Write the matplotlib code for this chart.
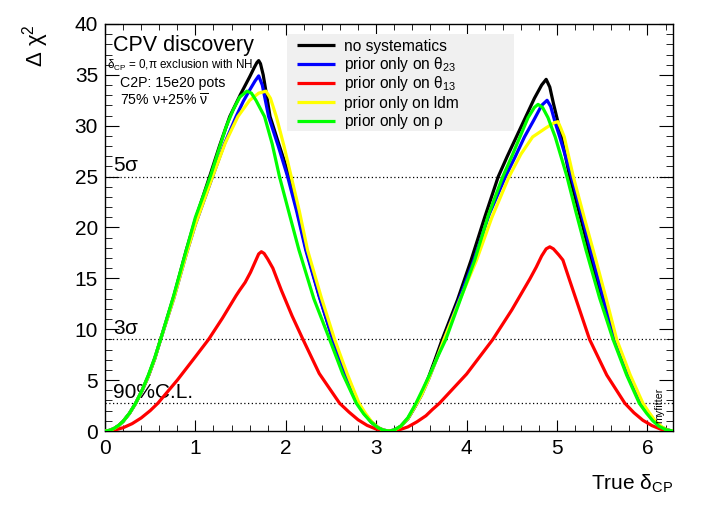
import numpy as np
import matplotlib
matplotlib.use("Agg")
import matplotlib.pyplot as plt
from matplotlib.patches import Rectangle
from matplotlib.ticker import MultipleLocator

plt.rcParams['font.family'] = ['Liberation Sans', 'DejaVu Sans']
plt.rcParams['mathtext.fontset'] = 'custom'
plt.rcParams['mathtext.rm'] = 'Liberation Sans'
plt.rcParams['mathtext.it'] = 'Liberation Sans'
plt.rcParams['mathtext.bf'] = 'Liberation Sans:bold'

# values (x = true delta_CP, y = delta chi2)
x_nosys = [0, 0.05, 0.1, 0.15, 0.2, 0.27, 0.34, 0.41, 0.48, 0.55, 0.615, 0.76, 0.9, 1.0, 1.157,
           1.27, 1.38, 1.5, 1.6, 1.65, 1.68, 1.70, 1.72, 1.75, 1.78, 1.826, 1.93, 2.04, 2.13,
           2.227, 2.37, 2.52, 2.66, 2.80, 2.87, 2.95, 3.02, 3.08, 3.1416,
           3.20, 3.27, 3.35, 3.43, 3.50, 3.58, 3.65, 3.73, 3.90, 4.05, 4.20, 4.35, 4.45, 4.55,
           4.65, 4.75, 4.83, 4.88, 4.92, 4.96, 5.05, 5.14, 5.26, 5.38, 5.51, 5.64, 5.79, 5.93,
           6.00, 6.08, 6.15, 6.22, 6.2832]
y_nosys = [0, 0.06, 0.24, 0.53, 0.94, 1.72, 2.73, 3.97, 5.4, 7.1, 9.0, 13.2, 17.8, 20.8, 25.0,
           28.1, 30.9, 33.1, 34.8, 35.7, 36.2, 36.4, 36.1, 35.0, 33.4, 30.9, 28.0, 25.0, 21.5,
           17.8, 13.3, 9.0, 5.6, 2.73, 1.7, 0.85, 0.33, 0.08, 0,
           0.09, 0.45, 1.2, 2.4, 3.6, 5.3, 7.0, 9.0, 12.9, 16.8, 21.0, 25.0, 27.0, 28.9,
           30.8, 32.7, 34.0, 34.56, 33.8, 32.2, 28.9, 25.0, 21.0, 16.8, 12.7, 9.0, 5.5, 2.73,
           1.8, 0.95, 0.4, 0.09, 0]

x_th23 = [0, 0.05, 0.1, 0.15, 0.2, 0.27, 0.34, 0.41, 0.48, 0.55, 0.615, 0.76, 0.9, 1.0, 1.19,
          1.32, 1.45, 1.53, 1.60, 1.66, 1.70, 1.74, 1.81, 1.92, 2.02, 2.12, 2.22, 2.37, 2.52,
          2.66, 2.80, 2.87, 2.95, 3.02, 3.08, 3.1416,
          3.20, 3.27, 3.35, 3.43, 3.50, 3.58, 3.66, 3.75, 3.92, 4.08, 4.25, 4.43, 4.54, 4.64,
          4.74, 4.83, 4.89, 4.93, 4.98, 5.03, 5.16, 5.28, 5.40, 5.52, 5.64, 5.79, 5.93,
          6.00, 6.08, 6.15, 6.22, 6.2832]
y_th23 = [0, 0.06, 0.24, 0.53, 0.94, 1.72, 2.73, 3.97, 5.4, 7.1, 9.0, 13.0, 17.4, 20.3, 25.0,
          28.2, 30.9, 32.4, 33.5, 34.4, 34.9, 34.0, 30.9, 27.9, 25.0, 21.6, 17.8, 13.2, 9.0,
          5.6, 2.73, 1.7, 0.85, 0.33, 0.08, 0,
          0.09, 0.45, 1.2, 2.4, 3.5, 5.1, 6.9, 9.0, 13.0, 16.8, 21.3, 25.0, 27.0, 28.9,
          30.5, 32.0, 32.5, 31.9, 30.3, 28.9, 25.0, 21.0, 16.8, 12.8, 9.0, 5.5, 2.73,
          1.8, 0.95, 0.4, 0.09, 0]

x_th13 = [0, 0.1, 0.2, 0.3, 0.4, 0.5, 0.585, 0.8, 1.0, 1.146, 1.3, 1.45, 1.49, 1.55, 1.61,
          1.66, 1.70, 1.73, 1.76, 1.80, 1.857, 1.90, 1.95, 2.07, 2.19, 2.37, 2.595, 2.70, 2.8,
          2.9, 3.0, 3.07, 3.1416,
          3.25, 3.35, 3.45, 3.55, 3.62, 3.70, 4.0, 4.29, 4.5, 4.70, 4.77, 4.83, 4.88, 4.92,
          4.96, 5.02, 5.065, 5.14, 5.25, 5.36, 5.55, 5.75, 5.85, 5.95, 6.05, 6.15, 6.22, 6.2832]
y_th13 = [0, 0.08, 0.32, 0.72, 1.28, 2.0, 2.73, 5.0, 7.3, 9.0, 11.1, 13.3, 13.84, 14.6, 15.6,
          16.6, 17.4, 17.62, 17.45, 16.9, 16.0, 15.0, 13.85, 11.3, 9.0, 5.65, 2.73, 1.85, 1.1,
          0.55, 0.19, 0.05, 0,
          0.1, 0.4, 0.9, 1.5, 2.1, 2.73, 5.6, 9.0, 11.9, 14.95, 16.1, 17.2, 17.9, 18.1,
          17.9, 17.3, 16.8, 14.8, 11.9, 9.0, 5.5, 2.73, 1.8, 1.05, 0.53, 0.17, 0.04, 0]

x_ldm = [0, 0.05, 0.1, 0.15, 0.2, 0.27, 0.34, 0.41, 0.48, 0.55, 0.615, 0.76, 0.9, 1.0, 1.19,
         1.33, 1.47, 1.60, 1.70, 1.78, 1.83, 1.895, 1.98, 2.06, 2.15, 2.24, 2.39, 2.54, 2.68,
         2.81, 2.88, 2.95, 3.02, 3.08, 3.1416,
         3.20, 3.27, 3.35, 3.43, 3.50, 3.58, 3.66, 3.75, 3.93, 4.11, 4.28, 4.47, 4.60, 4.73,
         4.88, 4.97, 5.01, 5.04, 5.08, 5.18, 5.30, 5.43, 5.55, 5.66, 5.81, 5.95,
         6.02, 6.09, 6.16, 6.22, 6.2832]
y_ldm = [0, 0.06, 0.24, 0.53, 0.94, 1.72, 2.73, 3.97, 5.4, 7.1, 9.0, 13.0, 17.4, 20.3, 25.0,
         28.3, 30.9, 32.5, 33.2, 33.4, 32.7, 30.9, 28.0, 25.0, 21.6, 17.8, 13.2, 9.0, 5.6,
         2.73, 1.75, 0.9, 0.35, 0.08, 0,
         0.09, 0.45, 1.2, 2.4, 3.5, 5.1, 6.9, 9.0, 13.0, 16.8, 21.0, 25.0, 27.2, 28.9,
         29.8, 30.3, 30.4, 29.8, 28.9, 25.0, 21.0, 16.8, 12.8, 9.0, 5.5, 2.73,
         1.8, 0.95, 0.4, 0.09, 0]

x_rho = [0, 0.05, 0.1, 0.15, 0.2, 0.27, 0.34, 0.41, 0.48, 0.55, 0.615, 0.76, 0.9, 1.0, 1.165,
         1.25, 1.34, 1.42, 1.49, 1.57, 1.62, 1.67, 1.765, 1.85, 1.93, 2.04, 2.145, 2.31, 2.485,
         2.63, 2.78, 2.86, 2.94, 3.02, 3.08, 3.1416,
         3.20, 3.27, 3.35, 3.44, 3.52, 3.60, 3.68, 3.77, 3.93, 4.09, 4.24, 4.40, 4.50, 4.59,
         4.68, 4.75, 4.79, 4.84, 4.90, 4.98, 5.11, 5.21, 5.32, 5.47, 5.62, 5.77, 5.91,
         5.99, 6.06, 6.13, 6.21, 6.2832]
y_rho = [0, 0.06, 0.25, 0.55, 0.95, 1.74, 2.75, 4.0, 5.5, 7.2, 9.0, 13.3, 17.8, 21.0, 25.0,
         27.4, 29.9, 31.6, 32.8, 33.4, 33.2, 32.5, 30.9, 28.2, 25.0, 21.3, 17.8, 13.0, 9.0,
         5.6, 2.73, 1.7, 0.9, 0.32, 0.08, 0,
         0.1, 0.47, 1.3, 2.73, 4.2, 5.7, 7.3, 9.0, 12.9, 16.8, 21.2, 25.0, 27.0, 28.9,
         30.8, 31.8, 32.1, 31.8, 30.8, 28.9, 25.0, 21.5, 17.8, 13.1, 9.0, 5.5, 2.73,
         1.75, 1.0, 0.45, 0.1, 0]

series = [
    (x_nosys, y_nosys, 'black', 'no systematics'),
    (x_th23, y_th23, '#0000ff', r'prior only on $\mathrm{\theta}_{23}$'),
    (x_th13, y_th13, '#ff0000', r'prior only on $\mathrm{\theta}_{13}$'),
    (x_ldm, y_ldm, '#ffff00', 'prior only on ldm'),
    (x_rho, y_rho, '#00ff00', r'prior only on $\mathrm{\rho}$'),
]

cl_levels = [25.0, 9.0, 2.71]
cl_labels = [r'5$\mathrm{\sigma}$', r'3$\mathrm{\sigma}$', '90%C.L.']

fig = plt.figure(figsize=(7.06, 5.07), dpi=100)
ax = fig.add_axes([0.1487, 0.1499, 0.8046, 0.8028])

for lev, lab in zip(cl_levels, cl_labels):
    ax.axhline(lev, color='black', linestyle=(0, (1, 2)), linewidth=0.9, zorder=1)
    ax.text(0.085, lev + 0.15, lab, fontsize=15, va='bottom', ha='left', zorder=2)

for xs, ys, col, lab in series:
    ax.plot(xs, ys, color=col, linewidth=2.3, zorder=3,
            solid_joinstyle='round', solid_capstyle='round')

ax.set_xlim(0, 2 * np.pi)
ax.set_ylim(0, 40)
ax.xaxis.set_major_locator(MultipleLocator(1))
ax.xaxis.set_minor_locator(MultipleLocator(0.2))
ax.yaxis.set_major_locator(MultipleLocator(5))
ax.yaxis.set_minor_locator(MultipleLocator(1))
ax.tick_params(which='both', direction='in', top=True, right=True, labelsize=15)
ax.tick_params(axis='x', which='major', length=8, pad=6)
ax.tick_params(axis='x', which='minor', length=4)
ax.tick_params(axis='y', which='major', length=10, pad=5)
ax.tick_params(axis='y', which='minor', length=5)
for sp in ax.spines.values():
    sp.set_linewidth(1.0)

ax.set_xlabel(r'True $\mathrm{\delta}_{\mathrm{CP}}$', fontsize=15, loc='right', labelpad=10)
ax.set_ylabel(r'$\mathrm{\Delta}$ $\mathrm{\chi}^{2}$', fontsize=16, loc='top', labelpad=17)

# legend box
ax.add_patch(Rectangle((0.3197, 0.737), 0.40, 0.2384, transform=ax.transAxes,
                       facecolor='#f0f0f0', edgecolor='none', zorder=4))
row_y = [0.948, 0.902, 0.855, 0.808, 0.762]
for (xs, ys, col, lab), ry in zip(series, row_y):
    ax.plot([0.3376, 0.4045], [ry, ry], color=col, linewidth=2.3,
            transform=ax.transAxes, zorder=5, solid_capstyle='butt')
    ax.text(0.421, ry - 0.0135, lab, fontsize=11.2, va='baseline', ha='left',
            transform=ax.transAxes, zorder=5)

ax.text(0.0135, 0.972, 'CPV discovery', fontsize=15.5, va='top', ha='left',
        transform=ax.transAxes, zorder=6)
ax.text(0.003, 0.897, r'$\mathrm{\delta}_{\mathrm{CP}}$ = 0,$\mathrm{\pi}$ exclusion with NH',
        fontsize=8.4, va='center', ha='left', transform=ax.transAxes, zorder=6)
ax.text(0.026, 0.856, 'C2P: 15e20 pots', fontsize=10.2, va='center', ha='left',
        transform=ax.transAxes, zorder=6)
ax.text(0.026, 0.812, r'75% $\mathrm{\nu}$+25% $\overline{\mathrm{\nu}}$', fontsize=10.2,
        va='center', ha='left', transform=ax.transAxes, zorder=6)

ax.text(6.135, 0.8, 'myfitter', fontsize=7.7, rotation=90, va='bottom', ha='center', zorder=6)

fig.savefig('out.png', dpi=100)
